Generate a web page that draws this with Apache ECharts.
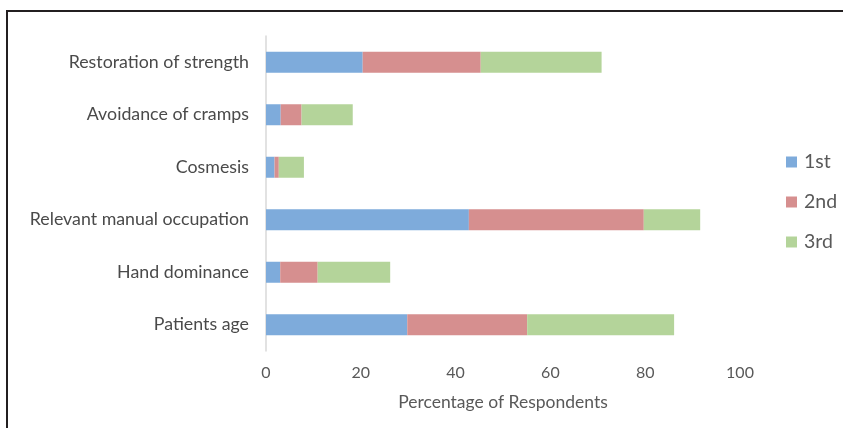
<!DOCTYPE html>
<html>
<head>
<meta charset="utf-8">
<script src="https://cdn.jsdelivr.net/npm/echarts@6/dist/echarts.min.js"></script>
<style>
  html, body { margin: 0; padding: 0; background: #fff; }
  #chart { width: 843px; height: 428px; }
</style>
</head>
<body>
<div id="chart"></div>
<script>
// Factors ranked by respondents (top to bottom as drawn)
const categories = [
  'Restoration of strength',
  'Avoidance of cramps',
  'Cosmesis',
  'Relevant manual occupation',
  'Hand dominance',
  'Patients age'
];
const rank1 = [20.4, 3.1, 1.8, 42.8, 3.0, 29.8];
const rank2 = [24.9, 4.4, 0.9, 36.9, 7.9, 25.3];
const rank3 = [25.5, 10.8, 5.3, 11.9, 15.3, 31.0];
const seriesNames = ['1st', '2nd', '3rd'];
const xTicks = { min: 0, max: 100, interval: 20 };

const colors = ['#7eabdb', '#d68f8f', '#b4d49a'];
const font = 'Lato, "Open Sans", sans-serif';

const chart = echarts.init(document.getElementById('chart'), null, { renderer: 'canvas' });

const makeSeries = (name, data, i) => ({
  name: name,
  type: 'bar',
  stack: 'total',
  data: data,
  barWidth: '40%',
  itemStyle: { color: colors[i] },
  emphasis: { disabled: true }
});

chart.setOption({
  animation: false,
  backgroundColor: '#ffffff',
  color: colors,
  grid: { left: 266, right: 103, top: 36, bottom: 77, containLabel: false },
  xAxis: {
    type: 'value',
    min: xTicks.min,
    max: xTicks.max,
    interval: xTicks.interval,
    axisLine: { show: false },
    axisTick: { show: false },
    splitLine: { show: false },
    axisLabel: { color: '#595959', fontSize: 16, fontFamily: font, margin: 14 },
    name: 'Percentage of Respondents',
    nameLocation: 'middle',
    nameGap: 42,
    nameTextStyle: { color: '#595959', fontSize: 17.5, fontFamily: font }
  },
  yAxis: {
    type: 'category',
    data: categories,
    inverse: true,
    axisLine: { show: true, lineStyle: { color: '#d9d9d9', width: 1.5 } },
    axisTick: { show: false },
    axisLabel: { color: '#4a4a4a', fontSize: 17.8, fontFamily: font, margin: 17 }
  },
  legend: {
    orient: 'vertical',
    left: 781,
    top: 147,
    itemWidth: 11,
    itemHeight: 11,
    itemGap: 20,
    icon: 'rect',
    data: seriesNames,
    textStyle: { color: '#595959', fontSize: 19.5, fontFamily: font, padding: [0, 0, 0, 2] }
  },
  series: [
    makeSeries(seriesNames[0], rank1, 0),
    makeSeries(seriesNames[1], rank2, 1),
    makeSeries(seriesNames[2], rank3, 2)
  ],
  graphic: [
    { type: 'line', shape: { x1: 6, y1: 11, x2: 843, y2: 11 }, style: { stroke: '#231f20', lineWidth: 2 } },
    { type: 'line', shape: { x1: 7, y1: 10, x2: 7, y2: 428 }, style: { stroke: '#231f20', lineWidth: 2 } }
  ]
});
</script>
</body>
</html>
